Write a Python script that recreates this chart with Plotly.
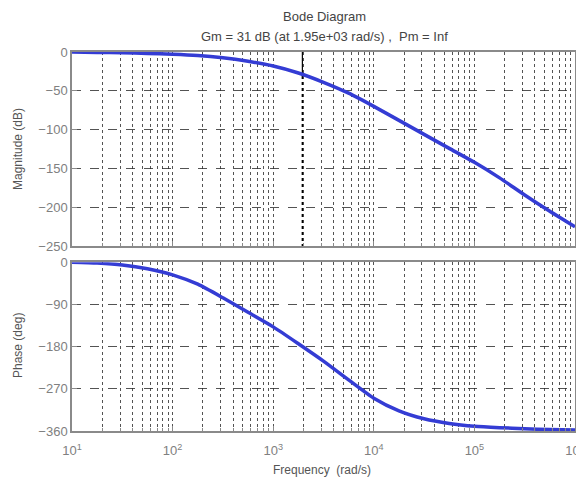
import plotly.graph_objects as go
from plotly.subplots import make_subplots

# Data (frequency in rad/s)
mag_freq = [10, 17.8, 31.6, 56.2, 100, 178, 316, 562, 1000, 1780, 3160, 5620, 10000,
            17800, 31600, 56200, 100000, 178000, 316000, 562000, 1000000]
mag_db = [0, -0.5, -1, -1.8, -2.8, -4.5, -7.5, -12, -18, -27, -39, -53, -70,
          -88, -106, -124, -142, -162, -184, -205, -225]

ph_freq = mag_freq
ph_deg = [0, -2, -6, -14, -27, -47, -76, -107, -138, -174, -211, -251, -290,
          -317, -334, -344, -350, -353, -355, -357, -358]

gm_freq = 1950
gm_db = -31

x_tickvals = [10, 100, 1000, 10000, 100000, 1000000]
x_ticktext = ["10<sup>1</sup>", "10<sup>2</sup>", "10<sup>3</sup>", "10<sup>4</sup>", "10<sup>5</sup>", "10<sup>6</sup>"]
mag_ticks = [0, -50, -100, -150, -200, -250]
ph_ticks = [0, -90, -180, -270, -360]

title_lines = ["Bode Diagram", "Gm = 31 dB (at 1.95e+03 rad/s) ,  Pm = Inf"]

LINE = "rgb(52,60,212)"
GRID = "rgba(40,40,40,0.8)"
AXC = "#8a8a8a"
FONT = "Liberation Sans, Arial, sans-serif"

fig = make_subplots(rows=2, cols=1, shared_xaxes=True, vertical_spacing=0.042,
                    row_heights=[0.535, 0.465])

# gain margin markers
fig.add_trace(go.Scatter(x=[gm_freq, gm_freq], y=[0, gm_db], mode="lines",
                         line=dict(color="black", width=1.2), hoverinfo="skip", showlegend=False), row=1, col=1)
fig.add_trace(go.Scatter(x=[gm_freq, gm_freq], y=[gm_db, mag_ticks[-1]], mode="lines",
                         line=dict(color="black", width=1.5, dash="dot"), hoverinfo="skip", showlegend=False), row=1, col=1)

fig.add_trace(go.Scatter(x=mag_freq, y=mag_db, mode="lines", line=dict(color=LINE, width=3.5, shape="spline", smoothing=0.6),
                         showlegend=False), row=1, col=1)
fig.add_trace(go.Scatter(x=ph_freq, y=ph_deg, mode="lines", line=dict(color=LINE, width=3.5, shape="spline", smoothing=0.6),
                         showlegend=False), row=2, col=1)

minor_vals = [m * 10 ** d for d in range(1, 6) for m in range(2, 10)]

for r in (1, 2):
    fig.update_xaxes(type="log", range=[1, 6], row=r, col=1, automargin=False,
                     tickvals=x_tickvals, ticktext=x_ticktext if r == 2 else [""] * 6,
                     showgrid=True, gridcolor=GRID, griddash="dot", gridwidth=1,
                     ticks="inside", ticklen=5, tickcolor=AXC,
                     minor=dict(tickvals=minor_vals, showgrid=True, gridcolor=GRID, griddash="dot",
                                gridwidth=1, ticks="inside", ticklen=3, tickcolor=AXC),
                     showline=True, linecolor=AXC, linewidth=1.5, mirror=True,
                     zeroline=False, tickfont=dict(size=13, color="#808080", family=FONT))
fig.update_xaxes(ticklabelstandoff=7, row=2, col=1)

fig.update_yaxes(range=[-250, 0], tickvals=mag_ticks, row=1, col=1)
fig.update_yaxes(range=[-360, 0], tickvals=ph_ticks, row=2, col=1)
fig.update_yaxes(showgrid=True, gridcolor=GRID, griddash="dash", gridwidth=1, automargin=False,
                 ticks="inside", ticklen=5, tickcolor=AXC,
                 showline=True, linecolor=AXC, linewidth=1.5, mirror=True, zeroline=False,
                 tickfont=dict(size=13, color="#808080", family=FONT))

TF = dict(size=12, color="#555555", family=FONT)
fig.update_layout(
    width=584, height=487,
    margin=dict(l=64, r=17, t=44, b=64),
    paper_bgcolor="white", plot_bgcolor="white",
    showlegend=False,
    annotations=[
        dict(text=title_lines[0], x=(324 - 72) / 503, y=1 + (52 - 17) / 379, xref="paper", yref="paper",
             showarrow=False, xanchor="center", yanchor="middle", font=dict(size=13, color="#444444", family=FONT)),
        dict(text=title_lines[1], x=(324 - 72) / 503, y=1 + (52 - 36) / 379, xref="paper", yref="paper",
             showarrow=False, xanchor="center", yanchor="middle", font=dict(size=13, color="#444444", family=FONT)),
        dict(text="Magnitude (dB)", x=0, xshift=-54, y=(431 - 149) / 379, xref="paper", yref="paper",
             showarrow=False, textangle=-90, xanchor="center", yanchor="middle", font=TF),
        dict(text="Phase (deg)", x=0, xshift=-54, y=(431 - 346) / 379, xref="paper", yref="paper",
             showarrow=False, textangle=-90, xanchor="center", yanchor="middle", font=TF),
        dict(text="Frequency  (rad/s)", x=(322 - 72) / 503, y=-(470 - 431) / 379, xref="paper", yref="paper",
             showarrow=False, xanchor="center", yanchor="middle", font=TF),
    ],
)

fig.write_html("out.html")
